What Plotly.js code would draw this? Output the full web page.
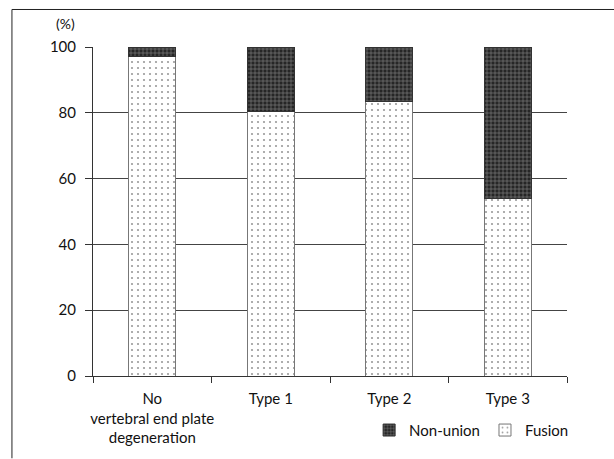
<!DOCTYPE html>
<html>
<head>
<meta charset="utf-8">
<script src="https://cdn.plot.ly/plotly-3.0.1.min.js"></script>
<style>
html,body{margin:0;padding:0;background:#fff;}
#chart{width:614px;height:459px;}
</style>
</head>
<body>
<div id="chart"></div>
<script>
const categories = ["No<br>vertebral end plate<br>degeneration", "Type 1", "Type 2", "Type 3"];
const fusion = [97, 80.5, 83.3, 54];
const nonUnion = [3, 19.5, 16.7, 46];
const yTicks = [0, 20, 40, 60, 80, 100];

const FONT = "Lato, 'DejaVu Sans', sans-serif";

const traces = [
  {
    type: "bar", name: "Fusion", x: categories, y: fusion,
    width: 0.4,
    marker: {
      color: "#ffffff",
      line: {color: "#777", width: 1},
      pattern: {shape: ".", fgcolor: "#9a9a9a", bgcolor: "#ffffff", size: 6, solidity: 0.1}
    },
    legendrank: 2
  },
  {
    type: "bar", name: "Non-union", x: categories, y: nonUnion,
    width: 0.4,
    marker: {
      color: "#2a2a2a",
      line: {color: "#333", width: 1},
      pattern: {shape: "+", fgcolor: "#8c8c8c", bgcolor: "#262626", size: 4, solidity: 0.25}
    },
    legendrank: 1
  }
];

const layout = {
  width: 614, height: 459,
  margin: {l: 93, r: 47, t: 47, b: 80},
  paper_bgcolor: "#fff", plot_bgcolor: "#fff",
  barmode: "stack",
  font: {family: FONT, size: 15, color: "#111"},
  showlegend: true,
  legend: {
    orientation: "h", x: 1.015, xanchor: "right", y: -0.165, yanchor: "middle",
    font: {family: FONT, size: 15, color: "#111"},
    traceorder: "normal", itemwidth: 30
  },
  xaxis: {
    type: "category",
    tickson: "boundaries",
    tickangle: 0,
    ticks: "outside", ticklen: 6, tickcolor: "#333", tickwidth: 1,
    showline: true, linecolor: "#333", linewidth: 1,
    showgrid: false,
    tickfont: {family: FONT, size: 15, color: "#111"},
    ticklabelstandoff: 9
  },
  yaxis: {
    range: [0, 100],
    tickvals: yTicks,
    ticks: "outside", ticklen: 7, tickcolor: "#333", tickwidth: 1,
    showline: true, linecolor: "#333", linewidth: 1,
    showgrid: true, gridcolor: "#444", gridwidth: 1,
    zeroline: false,
    tickfont: {family: FONT, size: 15, color: "#111"},
    ticklabelstandoff: 6
  },
  annotations: [
    {text: "(%)", xref: "paper", yref: "paper", x: -0.034, y: 1.072, xanchor: "right", yanchor: "middle",
     showarrow: false, font: {family: FONT, size: 14, color: "#111"}}
  ],
  shapes: [
    {type: "line", xref: "paper", yref: "paper", x0: -0.171, x1: -0.171, y0: 1.114, y1: -0.25, line: {color: "#222", width: 1}},
    {type: "line", xref: "paper", yref: "paper", x0: -0.171, x1: 1.1, y0: 1.114, y1: 1.114, line: {color: "#222", width: 1}}
  ]
};

Plotly.newPlot("chart", traces, layout, {displayModeBar: false, staticPlot: true});
</script>
</body>
</html>
